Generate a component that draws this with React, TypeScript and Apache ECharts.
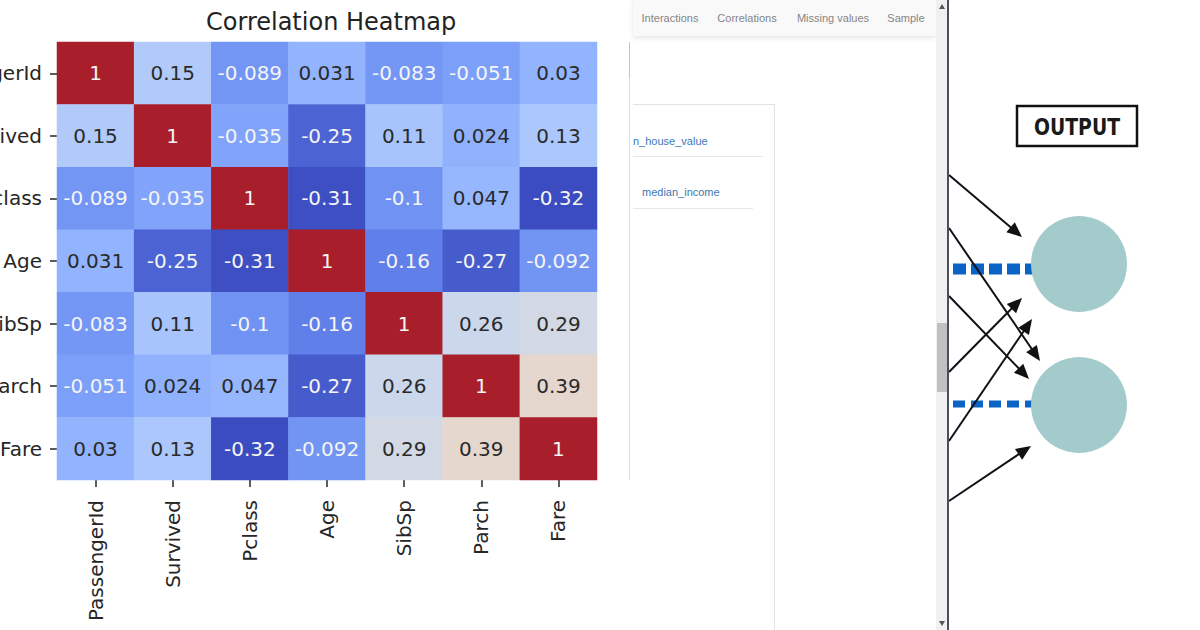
import React, { useEffect, useRef } from "react";
import * as echarts from "echarts";

// ---------- data ----------
const variables = ["PassengerId", "Survived", "Pclass", "Age", "SibSp", "Parch", "Fare"];
const rowPassengerId = [1, 0.15, -0.089, 0.031, -0.083, -0.051, 0.03];
const rowSurvived = [0.15, 1, -0.035, -0.25, 0.11, 0.024, 0.13];
const rowPclass = [-0.089, -0.035, 1, -0.31, -0.1, 0.047, -0.32];
const rowAge = [0.031, -0.25, -0.31, 1, -0.16, -0.27, -0.092];
const rowSibSp = [-0.083, 0.11, -0.1, -0.16, 1, 0.26, 0.29];
const rowParch = [-0.051, 0.024, 0.047, -0.27, 0.26, 1, 0.39];
const rowFare = [0.03, 0.13, -0.32, -0.092, 0.29, 0.39, 1];
const matrixRows = [rowPassengerId, rowSurvived, rowPclass, rowAge, rowSibSp, rowParch, rowFare];
const colorMin = -0.32;
const colorMax = 1;
const chartTitle = "Correlation Heatmap";
const navTabs = ["Interactions", "Correlations", "Missing values", "Sample"];
const linkLabels = ["n_house_value", "median_income"];
const diagramTitle = "OUTPUT";

// "coolwarm"-like ramp sampled at 0, 0.1, ..., 1 (tuned to the picture's tones)
const coolwarm = [
  "#3b4cc0", "#5977e3", "#7b9ff9", "#9ebeff", "#c0d4f5", "#dddcdc",
  "#f2cbb7", "#f7ac8e", "#ee8468", "#d65244", "#a81e2b",
];

const FONT = "DejaVu Sans";
const UI_FONT = "Liberation Sans, Arial, sans-serif";

function arrow(x1: number, y1: number, x2: number, y2: number) {
  const dx = x2 - x1;
  const dy = y2 - y1;
  const L = Math.hypot(dx, dy);
  const ux = dx / L;
  const uy = dy / L;
  const hl = 15;
  const hw = 6.5;
  const bx = x2 - ux * hl;
  const by = y2 - uy * hl;
  return [
    {
      type: "line",
      z: 5,
      shape: { x1, y1, x2: bx + ux * 2, y2: by + uy * 2 },
      style: { stroke: "#111", lineWidth: 2 },
    },
    {
      type: "polygon",
      z: 5,
      shape: {
        points: [
          [x2, y2],
          [bx - uy * hw, by + ux * hw],
          [bx + uy * hw, by - ux * hw],
        ],
      },
      style: { fill: "#111" },
    },
  ];
}

export default function App() {
  const ref = useRef<HTMLDivElement>(null);

  useEffect(() => {
    if (!ref.current) return;
    const chart = echarts.init(ref.current, undefined, { renderer: "svg" });

    const cells: any[] = [];
    matrixRows.forEach((row, i) => {
      row.forEach((v, j) => {
        const dark = v < 0 || v > 0.6;
        cells.push({
          value: [j, i, v],
          label: { color: dark ? "#f4f4f4" : "#2a2a2a" },
        });
      });
    });

    const graphics: any[] = [
      // thin vertical line behind the heatmap image
      { type: "line", shape: { x1: 629.5, y1: 42, x2: 629.5, y2: 480 }, style: { stroke: "#dcdce8", lineWidth: 1 } },
      { type: "line", shape: { x1: 629.5, y1: 42, x2: 629.5, y2: 78 }, style: { stroke: "#e8b4b4", lineWidth: 1 } },
      // nav bar
      {
        type: "rect",
        shape: { x: 633, y: -2, width: 303, height: 38 },
        style: { fill: "#f9f9f9", shadowBlur: 5, shadowColor: "rgba(0,0,0,0.10)", shadowOffsetY: 2 },
      },
      ...navTabs.map((t, k) => ({
        type: "text",
        x: [670, 747, 833, 906][k],
        y: 18,
        style: {
          text: t,
          fill: "#858585",
          font: `11px ${UI_FONT}`,
          textAlign: "center",
          textVerticalAlign: "middle",
        },
      })),
      // card
      { type: "line", shape: { x1: 633, y1: 104.5, x2: 774, y2: 104.5 }, style: { stroke: "#e2e2e2", lineWidth: 1 } },
      { type: "line", shape: { x1: 774.5, y1: 104, x2: 774.5, y2: 630 }, style: { stroke: "#e2e2e2", lineWidth: 1 } },
      ...linkLabels.map((t, k) => ({
        type: "text",
        x: [633, 642][k],
        y: [141, 192][k],
        style: {
          text: t,
          fill: "#3d78b3",
          font: `11px ${UI_FONT}`,
          textAlign: "left",
          textVerticalAlign: "middle",
        },
      })),
      { type: "line", shape: { x1: 633, y1: 156.5, x2: 763, y2: 156.5 }, style: { stroke: "#e8e8e8", lineWidth: 1 } },
      { type: "line", shape: { x1: 633, y1: 208.5, x2: 753, y2: 208.5 }, style: { stroke: "#e8e8e8", lineWidth: 1 } },
      // scrollbar
      { type: "rect", shape: { x: 936, y: 0, width: 12, height: 630 }, style: { fill: "#f0f0f0" } },
      { type: "rect", shape: { x: 937, y: 323, width: 10, height: 69 }, style: { fill: "#c1c1c1" } },
      { type: "polygon", shape: { points: [[942, 4], [939, 9], [945, 9]] }, style: { fill: "#555" } },
      { type: "polygon", shape: { points: [[942, 626], [939, 621], [945, 621]] }, style: { fill: "#555" } },
      // diagram: dashed inputs
      {
        type: "line",
        z: 3,
        shape: { x1: 953, y1: 269, x2: 1035, y2: 269 },
        style: { stroke: "#0b63c6", lineWidth: 11, lineDash: [13, 5] },
      },
      {
        type: "line",
        z: 3,
        shape: { x1: 953, y1: 404, x2: 1035, y2: 404 },
        style: { stroke: "#0b63c6", lineWidth: 7, lineDash: [12, 6] },
      },
      // neurons
      { type: "circle", z: 4, shape: { cx: 1079, cy: 264, r: 48 }, style: { fill: "#a3cbcb" } },
      { type: "circle", z: 4, shape: { cx: 1079, cy: 405, r: 48 }, style: { fill: "#a3cbcb" } },
      // arrows
      ...arrow(949, 175, 1022, 237),
      ...arrow(949, 228, 1040, 361),
      ...arrow(949, 296, 1029, 379),
      ...arrow(949, 372, 1022, 298),
      ...arrow(949, 441, 1032, 319),
      ...arrow(949, 501, 1031, 446),
      // output box
      {
        type: "rect",
        z: 5,
        shape: { x: 1017, y: 106, width: 120, height: 40 },
        style: { fill: "#ffffff", stroke: "#111", lineWidth: 2.5 },
      },
      {
        type: "text",
        z: 6,
        x: 1077,
        y: 127,
        scaleX: 0.82,
        style: {
          text: diagramTitle,
          fill: "#1a1a1a",
          font: `bold 23px ${FONT}`,
          textAlign: "center",
          textVerticalAlign: "middle",
        },
      },
      // dark frame line left of diagram
      { type: "rect", z: 7, shape: { x: 947, y: 0, width: 2, height: 630 }, style: { fill: "#4a4f5c" } },
    ];

    chart.setOption({
      animation: false,
      backgroundColor: "#ffffff",
      title: {
        text: chartTitle,
        left: 201,
        top: 5,
        textStyle: { fontFamily: FONT, fontSize: 24, fontWeight: "normal", color: "#222222" },
      },
      grid: { left: 57, right: 603, top: 42, bottom: 150, containLabel: false, outerBoundsMode: "none" },
      xAxis: {
        type: "category",
        data: variables,
        position: "bottom",
        axisLine: { show: false },
        axisTick: { show: true, length: 7, alignWithLabel: true, lineStyle: { color: "#262626", width: 1.5 } },
        axisLabel: { rotate: 90, margin: 20, fontFamily: FONT, fontSize: 20, color: "#262626", interval: 0 },
        splitLine: { show: false },
        splitArea: { show: false },
      },
      yAxis: {
        type: "category",
        data: variables,
        inverse: true,
        axisLine: { show: false },
        axisTick: { show: true, length: 7, alignWithLabel: true, lineStyle: { color: "#262626", width: 1.5 } },
        axisLabel: { margin: 15, fontFamily: FONT, fontSize: 20, color: "#262626", interval: 0 },
        splitLine: { show: false },
        splitArea: { show: false },
      },
      visualMap: {
        type: "continuous",
        show: false,
        min: colorMin,
        max: colorMax,
        dimension: 2,
        inRange: { color: coolwarm },
      },
      series: [
        {
          type: "heatmap",
          data: cells,
          itemStyle: { borderWidth: 0 },
          emphasis: { disabled: true },
          label: {
            show: true,
            fontFamily: FONT,
            fontSize: 20,
            formatter: (p: any) => String(p.value[2]),
          },
        },
      ],
      graphic: graphics,
    });

    return () => chart.dispose();
  }, []);

  return (
    <div
      ref={ref}
      style={{ position: "absolute", left: 0, top: 0, width: 1200, height: 630, background: "#fff" }}
    />
  );
}
